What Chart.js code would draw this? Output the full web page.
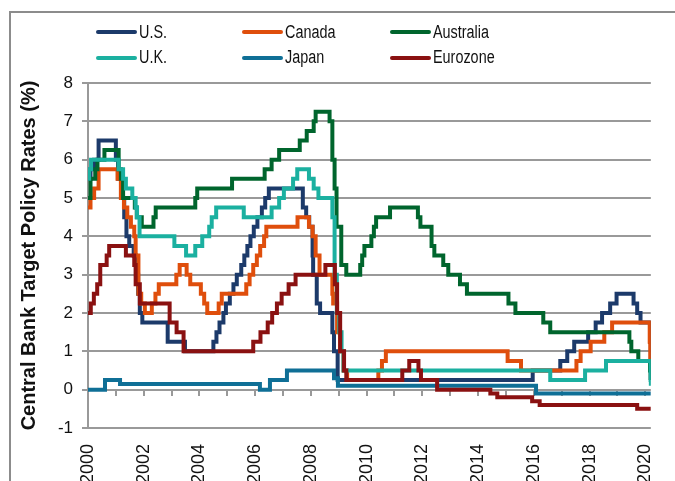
<!DOCTYPE html>
<html>
<head>
<meta charset="utf-8">
<script src="https://cdn.jsdelivr.net/npm/chart.js@4"></script>
<style>
  body { margin: 0; width: 675px; height: 481px; overflow: hidden; background: #fff; position: relative; }
  #frame { position: absolute; left: 9px; top: 11px; width: 700px; height: 500px;
           border-left: 2px solid #8c8c8c; border-top: 2px solid #8c8c8c; }
  #chart { position: absolute; left: 0; top: 0; }
  #legend { position: absolute; left: 0; top: 0; }
  .item { position: absolute; height: 24px; display: flex; align-items: center;
          font-family: "Liberation Sans", Arial, sans-serif;
          font-size: 18px; color: #111; white-space: nowrap; }
  .item .swatch { width: 41px; height: 4px; border-radius: 2px; margin-right: 2px; }
  .item .name { display: inline-block; transform: scaleX(0.8); transform-origin: left center; }
</style>
</head>
<body>
<div id="frame"></div>
<canvas id="chart" width="675" height="481"></canvas>
<div id="legend"></div>
<script>
// policy rates (%), each pair = [date as decimal year, new rate]
const usRates = [
  [2000.0, 5.5], [2000.09, 5.75], [2000.22, 6.0], [2000.38, 6.5], [2001.0, 6.0], [2001.08, 5.5],
  [2001.22, 5.0], [2001.3, 4.5], [2001.38, 4.0], [2001.48, 3.75], [2001.64, 3.5], [2001.72, 3.0],
  [2001.8, 2.5], [2001.86, 2.0], [2001.95, 1.75], [2002.86, 1.25], [2003.48, 1.0], [2004.5, 1.25],
  [2004.61, 1.5], [2004.72, 1.75], [2004.86, 2.0], [2004.95, 2.25], [2005.09, 2.5], [2005.22, 2.75],
  [2005.34, 3.0], [2005.5, 3.25], [2005.61, 3.5], [2005.72, 3.75], [2005.83, 4.0], [2005.95, 4.25],
  [2006.08, 4.5], [2006.24, 4.75], [2006.36, 5.0], [2006.49, 5.25], [2007.71, 4.75], [2007.83, 4.5],
  [2007.94, 4.25], [2008.06, 3.5], [2008.08, 3.0], [2008.21, 2.25], [2008.33, 2.0], [2008.77, 1.5],
  [2008.83, 1.0], [2008.96, 0.25], [2015.96, 0.5], [2016.95, 0.75], [2017.2, 1.0], [2017.45, 1.25],
  [2017.95, 1.5], [2018.22, 1.75], [2018.45, 2.0], [2018.74, 2.25], [2018.97, 2.5], [2019.58, 2.25],
  [2019.71, 2.0], [2019.83, 1.75], [2020.17, 1.25], [2020.2, 0.25]
];
const canadaRates = [
  [2000.0, 4.75], [2000.09, 5.0], [2000.22, 5.25], [2000.38, 5.75], [2001.06, 5.5], [2001.18, 5.0],
  [2001.29, 4.75], [2001.41, 4.5], [2001.54, 4.25], [2001.66, 4.0], [2001.71, 3.5], [2001.81, 2.5],
  [2001.91, 2.25], [2002.04, 2.0], [2002.29, 2.25], [2002.42, 2.5], [2002.54, 2.75], [2003.17, 3.0],
  [2003.29, 3.25], [2003.54, 3.0], [2003.67, 2.75], [2004.05, 2.5], [2004.17, 2.25], [2004.28, 2.0],
  [2004.69, 2.25], [2004.8, 2.5], [2005.68, 2.75], [2005.8, 3.0], [2005.93, 3.25], [2006.06, 3.5],
  [2006.18, 3.75], [2006.32, 4.0], [2006.4, 4.25], [2007.52, 4.5], [2007.93, 4.25], [2008.06, 4.0],
  [2008.17, 3.5], [2008.31, 3.0], [2008.77, 2.5], [2008.8, 2.25], [2008.94, 1.5], [2009.05, 1.0],
  [2009.17, 0.5], [2009.3, 0.25], [2010.42, 0.5], [2010.55, 0.75], [2010.69, 1.0], [2015.06, 0.75],
  [2015.54, 0.5], [2017.53, 0.75], [2017.68, 1.0], [2018.04, 1.25], [2018.53, 1.5], [2018.81, 1.75],
  [2020.16, 1.25], [2020.18, 0.75], [2020.2, 0.25]
];
const australiaRates = [
  [2000.0, 5.0], [2000.09, 5.5], [2000.26, 5.75], [2000.34, 6.0], [2000.59, 6.25], [2001.1, 5.75],
  [2001.18, 5.5], [2001.26, 5.0], [2001.68, 4.75], [2001.75, 4.5], [2001.93, 4.25], [2002.35, 4.5],
  [2002.43, 4.75], [2003.85, 5.0], [2003.92, 5.25], [2005.17, 5.5], [2006.34, 5.75], [2006.59, 6.0],
  [2006.86, 6.25], [2007.6, 6.5], [2007.85, 6.75], [2008.1, 7.0], [2008.17, 7.25], [2008.67, 7.0],
  [2008.77, 6.0], [2008.85, 5.25], [2008.92, 4.25], [2009.09, 3.25], [2009.27, 3.0], [2009.77, 3.25],
  [2009.84, 3.5], [2009.92, 3.75], [2010.17, 4.0], [2010.26, 4.25], [2010.34, 4.5], [2010.84, 4.75],
  [2011.84, 4.5], [2011.93, 4.25], [2012.33, 3.75], [2012.43, 3.5], [2012.75, 3.25], [2012.93, 3.0],
  [2013.35, 2.75], [2013.6, 2.5], [2015.09, 2.25], [2015.34, 2.0], [2016.34, 1.75], [2016.59, 1.5],
  [2019.43, 1.25], [2019.5, 1.0], [2019.75, 0.75], [2020.17, 0.5], [2020.2, 0.25]
];
const ukRates = [
  [2000.0, 5.5], [2000.04, 5.75], [2000.11, 6.0], [2001.1, 5.75], [2001.26, 5.5], [2001.36, 5.25],
  [2001.59, 5.0], [2001.71, 4.75], [2001.76, 4.5], [2001.85, 4.0], [2003.1, 3.75], [2003.52, 3.5],
  [2003.85, 3.75], [2004.1, 4.0], [2004.35, 4.25], [2004.44, 4.5], [2004.6, 4.75], [2005.59, 4.5],
  [2006.59, 4.75], [2006.86, 5.0], [2007.03, 5.25], [2007.36, 5.5], [2007.51, 5.75], [2007.93, 5.5],
  [2008.1, 5.25], [2008.27, 5.0], [2008.77, 4.5], [2008.85, 3.0], [2008.93, 2.0], [2009.02, 1.5],
  [2009.1, 1.0], [2009.17, 0.5], [2016.59, 0.25], [2017.84, 0.5], [2018.59, 0.75], [2020.19, 0.25],
  [2020.2, 0.1]
];
const japanRates = [
  [2000.0, 0], [2000.61, 0.25], [2001.15, 0.15], [2006.17, 0], [2006.53, 0.25], [2007.14, 0.5],
  [2008.83, 0.3], [2008.97, 0.1], [2016.08, -0.1], [2020.2, -0.1]
];
const eurozoneRates = [
  [2000.0, 2.0], [2000.1, 2.25], [2000.21, 2.5], [2000.33, 2.75], [2000.44, 3.25], [2000.67, 3.5],
  [2000.76, 3.75], [2001.36, 3.5], [2001.66, 3.25], [2001.71, 2.75], [2001.86, 2.25], [2002.93, 1.75],
  [2003.18, 1.5], [2003.43, 1.0], [2005.93, 1.25], [2006.19, 1.5], [2006.45, 1.75], [2006.61, 2.0],
  [2006.78, 2.25], [2006.95, 2.5], [2007.2, 2.75], [2007.45, 3.0], [2008.52, 3.25], [2008.86, 2.75],
  [2008.94, 2.0], [2009.05, 1.0], [2009.19, 0.5], [2009.27, 0.25], [2011.28, 0.5], [2011.53, 0.75],
  [2011.86, 0.5], [2011.95, 0.25], [2012.53, 0], [2014.44, -0.1], [2014.69, -0.2], [2015.94, -0.3],
  [2016.21, -0.4], [2019.71, -0.5], [2020.2, -0.5]
];

const seriesNames = ["U.S.", "Canada", "Australia", "U.K.", "Japan", "Eurozone"];
const seriesData = [usRates, canadaRates, australiaRates, ukRates, japanRates, eurozoneRates];
const seriesColors = ["#1c3a6a", "#df4e0c", "#00652d", "#1bb0a0", "#0f6f96", "#8a1111"];

const xMin = 2000, xMax = 2020.2;
const yMin = -1, yMax = 8;
const gridGray = "#999999";

const datasets = seriesNames.map(function (name, i) {
    return {
        label: name,
        data: seriesData[i].map(p => ({ x: p[0], y: p[1] })),
        borderColor: seriesColors[i],
        borderWidth: 4,
        stepped: true,
        pointRadius: 0,
        fill: false,
        order: seriesNames.length - i, // later series on top
    };
});

const chart = new Chart(document.getElementById("chart"), {
    type: "line",
    data: { datasets: datasets },
    options: {
        responsive: false,
        animation: false,
        layout: { padding: { top: 83, right: 14, left: 0, bottom: 0 } },
        plugins: { legend: { display: false }, tooltip: { enabled: false } },
        scales: {
            x: {
                type: "linear",
                min: xMin,
                max: xMax,
                afterFit: s => { s.height = 53; },
                grid: { display: false },
                border: { display: false },
                ticks: {
                    stepSize: 2,
                    includeBounds: false,
                    autoSkip: false,
                    minRotation: 90,
                    maxRotation: 90,
                    padding: 8,
                    color: "#111",
                    font: { family: "'Liberation Sans', Arial, sans-serif", size: 18 },
                    callback: v => String(v),
                },
            },
            // axis line crossing at zero, only tick marks
            x0: {
                type: "linear",
                position: { y: 0 },
                min: xMin,
                max: xMax,
                grid: { drawOnChartArea: false, drawTicks: true, tickLength: 6, color: gridGray, lineWidth: 2 },
                border: { display: false },
                ticks: { stepSize: 1, includeBounds: false, display: false },
            },
            y: {
                min: yMin,
                max: yMax,
                afterFit: s => { s.width = 88; },
                grid: { color: gridGray, lineWidth: 2, tickLength: 6 },
                border: { color: gridGray, width: 2 },
                ticks: {
                    stepSize: 1,
                    padding: 9,
                    color: "#111",
                    font: { family: "'Liberation Sans', Arial, sans-serif", size: 17 },
                },
                title: {
                    display: true,
                    text: "Central Bank Target Policy Rates (%)",
                    color: "#111",
                    padding: { top: 17, bottom: 0 },
                    font: { family: "'Liberation Sans', Arial, sans-serif", size: 20, weight: "bold" },
                },
            },
        },
    },
});

// legend in a 3 x 2 grid like the original
const legendCols = [96, 242, 390];
const legendRows = [20, 45.5];
const legendEl = document.getElementById("legend");
chart.data.datasets.forEach(function (ds, i) {
    const item = document.createElement("div");
    item.className = "item";
    item.style.left = legendCols[i % 3] + "px";
    item.style.top = legendRows[Math.floor(i / 3)] + "px";
    const sw = document.createElement("span");
    sw.className = "swatch";
    sw.style.background = ds.borderColor;
    const txt = document.createElement("span");
    txt.className = "name";
    txt.textContent = ds.label;
    item.appendChild(sw);
    item.appendChild(txt);
    legendEl.appendChild(item);
});
</script>
</body>
</html>
